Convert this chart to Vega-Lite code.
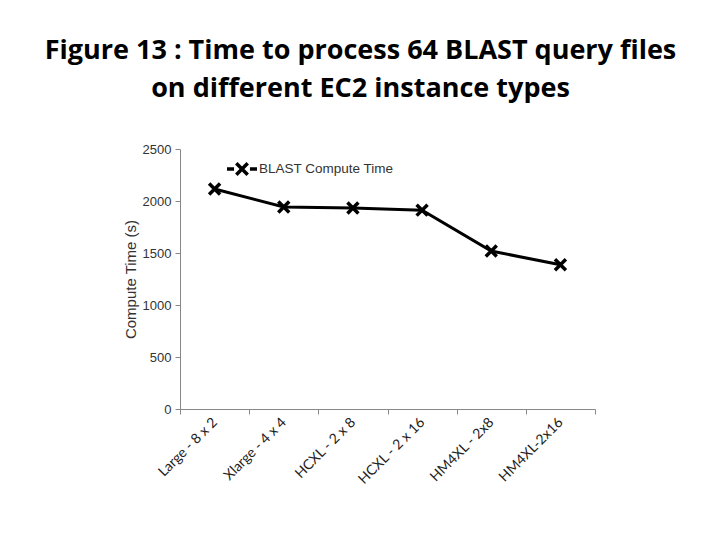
{
  "$schema": "https://vega.github.io/schema/vega-lite/v6.json",
  "autosize": "none",
  "width": 415,
  "height": 260,
  "padding": {"left": 180, "top": 149, "right": 125, "bottom": 131},
  "background": "white",
  "title": {
    "text": ["Figure 13 : Time to process 64 BLAST query files", "on different EC2 instance types"],
    "font": "Open Sans",
    "fontSize": 27,
    "fontWeight": "bold",
    "color": "black",
    "anchor": "middle",
    "dx": -27,
    "offset": 40,
    "lineHeight": 38
  },
  "data": {
    "values": [
      {"instance": "Large - 8 x 2", "time": 2115},
      {"instance": "Xlarge - 4 x 4", "time": 1942},
      {"instance": "HCXL - 2 x 8", "time": 1933},
      {"instance": "HCXL - 2 x 16", "time": 1912},
      {"instance": "HM4XL - 2x8", "time": 1519},
      {"instance": "HM4XL-2x16", "time": 1387}
    ]
  },
  "encoding": {
    "x": {
      "field": "instance",
      "type": "ordinal",
      "sort": null,
      "scale": {"paddingInner": 0, "paddingOuter": 0},
      "axis": {
        "title": null,
        "tickBand": "extent",
        "labelAngle": -45,
        "labelAlign": "right",
        "labelBaseline": "middle",
        "labelFont": "Lato",
        "labelFontSize": 14,
        "labelColor": "#222",
        "labelPadding": 6,
        "domainColor": "#888",
        "tickColor": "#888",
        "tickSize": 5,
        "grid": false
      }
    },
    "y": {
      "field": "time",
      "type": "quantitative",
      "scale": {"domain": [0, 2500]},
      "axis": {
        "title": "Compute Time (s)",
        "titleFont": "Liberation Sans",
        "titleFontSize": 15,
        "titleFontWeight": "normal",
        "titleColor": "#333",
        "titlePadding": 4,
        "values": [0, 500, 1000, 1500, 2000, 2500],
        "format": "d",
        "labelFont": "Liberation Sans",
        "labelFontSize": 13,
        "labelColor": "#333",
        "labelPadding": 4,
        "domainColor": "#888",
        "tickColor": "#888",
        "tickSize": 5,
        "grid": false
      }
    }
  },
  "layer": [
    {
      "mark": {"type": "line", "color": "black", "strokeWidth": 3}
    },
    {
      "mark": {
        "type": "point",
        "shape": "M-1,-1L1,1M-1,1L1,-1",
        "filled": false,
        "size": 120,
        "strokeWidth": 3.5,
        "opacity": 1
      },
      "encoding": {
        "color": {
          "datum": "BLAST Compute Time",
          "scale": {"range": ["black"]},
          "legend": {
            "title": null,
            "orient": "none",
            "legendX": 45,
            "legendY": 3,
            "symbolType": "M-1,0L-0.53,0M0.53,0L1,0M-0.38,-0.38L0.38,0.38M-0.38,0.38L0.38,-0.38",
            "symbolSize": 900,
            "symbolStrokeWidth": 3.5,
            "symbolStrokeColor": "black",
            "symbolFillColor": "transparent",
            "labelFont": "Liberation Sans",
            "labelFontSize": 13.5,
            "labelColor": "#333",
            "labelOffset": 0
          }
        }
      }
    }
  ],
  "config": {"view": {"stroke": null}}
}
